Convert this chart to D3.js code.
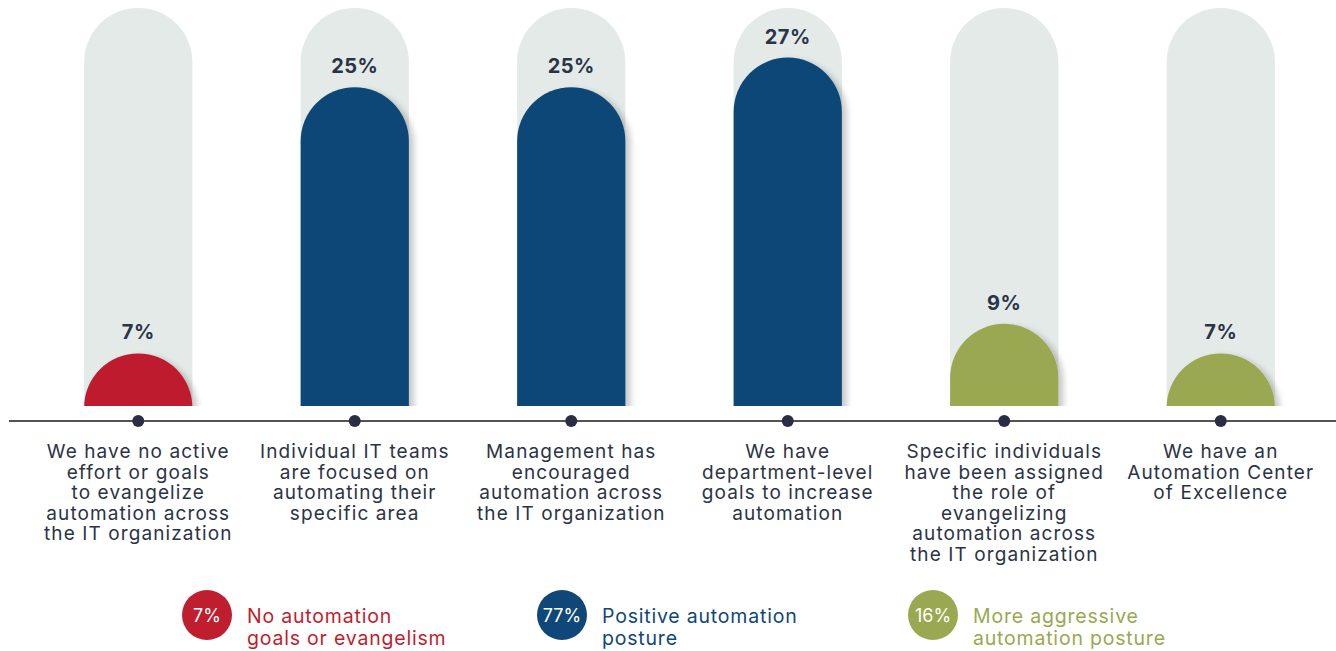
<!DOCTYPE html>
<html>
<head>
<meta charset="utf-8">
<script src="https://cdn.jsdelivr.net/npm/d3@7"></script>
<style>
  html, body { margin: 0; padding: 0; background: #ffffff; }
  svg { display: block; font-family: Inter, "Noto Sans", sans-serif; }
</style>
</head>
<body>
<svg id="chart" width="1336" height="651"></svg>
<script>
// Survey responses: how organisations evangelise automation
const categories = [
  ["We have no active", "effort or goals", "to evangelize", "automation across", "the IT organization"],
  ["Individual IT teams", "are focused on", "automating their", "specific area"],
  ["Management has", "encouraged", "automation across", "the IT organization"],
  ["We have", "department-level", "goals to increase", "automation"],
  ["Specific individuals", "have been assigned", "the role of", "evangelizing", "automation across", "the IT organization"],
  ["We have an", "Automation Center", "of Excellence"]
];
const values = [7, 25, 25, 27, 9, 7];
const groups = ["none", "positive", "positive", "positive", "aggressive", "aggressive"];

const legendKeys = ["none", "positive", "aggressive"];
const legendValues = ["7%", "77%", "16%"];
const legendLabels = [
  ["No automation", "goals or evangelism"],
  ["Positive automation", "posture"],
  ["More aggressive", "automation posture"]
];

const colors = { none: "#be1e2d", positive: "#0f4778", aggressive: "#9aa851" };
const trackColor = "#e3eae8";
const inkColor = "#2b3346";

const svg = d3.select("#chart");
const W = 1336;

const baseY = 406;
const axisY = 421;
const trackMax = 30.35;

const x = d3.scaleBand()
  .domain(d3.range(values.length))
  .range([30, 1329])
  .paddingInner(0.5)
  .paddingOuter(0.25);

// value scale; the rounded cap's zero point sits below the baseline
const y = d3.scaleLinear().domain([0, trackMax]).range([457, 8]);

const bw = x.bandwidth();
const r = bw / 2;

const defs = svg.append("defs");
defs.append("clipPath").attr("id", "plot-clip")
  .append("rect").attr("x", 0).attr("y", 0).attr("width", W).attr("height", baseY);

const shadow = defs.append("filter").attr("id", "bar-shadow")
  .attr("x", "-20%").attr("y", "-20%").attr("width", "150%").attr("height", "150%");
shadow.append("feGaussianBlur").attr("in", "SourceAlpha").attr("stdDeviation", 3);
shadow.append("feOffset").attr("dx", 5).attr("dy", 3).attr("result", "ob");
shadow.append("feComponentTransfer").append("feFuncA").attr("type", "linear").attr("slope", 0.22);
const merge = shadow.append("feMerge");
merge.append("feMergeNode");
merge.append("feMergeNode").attr("in", "SourceGraphic");

// capsule path with a semicircular top, from top down to yb
function capsule(x0, top, yb) {
  const p = d3.path();
  p.moveTo(x0, yb);
  p.lineTo(x0, top + r);
  p.arc(x0 + r, top + r, r, Math.PI, 0);
  p.lineTo(x0 + 2 * r, yb);
  p.closePath();
  return p.toString();
}

const plot = svg.append("g").attr("clip-path", "url(#plot-clip)");

// background tracks
plot.selectAll("path.track")
  .data(values)
  .join("path")
  .attr("class", "track")
  .attr("fill", trackColor)
  .attr("d", (d, i) => capsule(x(i), y(trackMax), baseY + 10));

// value bars
plot.selectAll("path.bar")
  .data(values)
  .join("path")
  .attr("class", "bar")
  .attr("fill", (d, i) => colors[groups[i]])
  .attr("filter", "url(#bar-shadow)")
  .attr("d", (d, i) => capsule(x(i), y(d), baseY + 20));

// value labels
svg.selectAll("text.val")
  .data(values)
  .join("text")
  .attr("class", "val")
  .attr("x", (d, i) => x(i) + r)
  .attr("y", d => y(d) - 14)
  .attr("text-anchor", "middle")
  .attr("font-size", 20)
  .attr("font-weight", 700)
  .attr("letter-spacing", 0.5)
  .attr("fill", inkColor)
  .text(d => d + "%");

// axis line and markers
svg.append("line")
  .attr("x1", 9).attr("x2", W)
  .attr("y1", axisY).attr("y2", axisY)
  .attr("stroke", "#1a1a1a").attr("stroke-width", 1.5);

svg.selectAll("circle.tick")
  .data(values)
  .join("circle")
  .attr("class", "tick")
  .attr("cx", (d, i) => x(i) + r)
  .attr("cy", axisY)
  .attr("r", 6)
  .attr("fill", "#2b2d45");

// category labels
const cat = svg.selectAll("text.cat")
  .data(categories)
  .join("text")
  .attr("class", "cat")
  .attr("text-anchor", "middle")
  .attr("font-size", 19)
  .attr("letter-spacing", 1.1)
  .attr("fill", inkColor)
  .attr("transform", (d, i) => `translate(${x(i) + r},458)`);
cat.selectAll("tspan")
  .data(d => d)
  .join("tspan")
  .attr("x", 0)
  .attr("dy", (d, j) => j === 0 ? 0 : 20.5)
  .text(d => d);

// legend
const legendX = [207, 562, 933];
const lg = svg.selectAll("g.legend")
  .data(legendKeys)
  .join("g")
  .attr("class", "legend")
  .attr("transform", (d, i) => `translate(${legendX[i]},615)`);
lg.append("circle")
  .attr("r", 25)
  .attr("fill", d => colors[d]);
lg.append("text")
  .attr("text-anchor", "middle")
  .attr("y", 7)
  .attr("font-size", 18)
  .attr("fill", "#ffffff")
  .text((d, i) => legendValues[i]);
const lt = lg.append("text")
  .attr("x", 40)
  .attr("y", 8)
  .attr("font-size", 19.5)
  .attr("letter-spacing", 0.8)
  .attr("fill", d => colors[d]);
lt.selectAll("tspan")
  .data((d, i) => legendLabels[i])
  .join("tspan")
  .attr("x", 40)
  .attr("dy", (d, j) => j === 0 ? 0 : 21.5)
  .text(d => d);
</script>
</body>
</html>
